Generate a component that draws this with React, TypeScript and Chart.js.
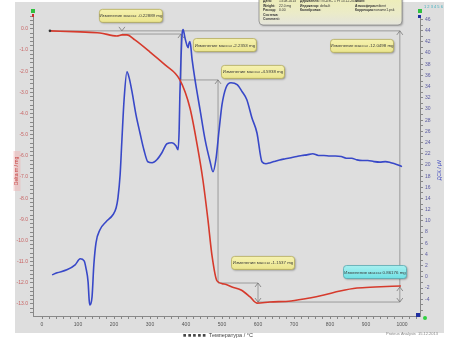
import React, { useEffect, useRef } from 'react';
import { Chart, registerables } from 'chart.js';
Chart.register(...registerables);

// ---- data ----
const tgTemps = [22, 106, 161, 208, 222, 236, 258, 300, 342, 383, 411, 431, 447, 461, 472, 486, 506, 528, 553, 578, 597, 633, 692, 744, 783, 828, 875, 925, 997];
const tgMass = [-0.09, -0.14, -0.19, -0.33, -0.28, -0.28, -0.52, -1.09, -1.7, -2.41, -3.74, -5.48, -7.14, -9.03, -10.69, -11.91, -12.06, -12.2, -12.34, -12.67, -12.96, -12.91, -12.86, -12.72, -12.58, -12.39, -12.25, -12.2, -12.15];

const dscTemps = [28, 42, 69, 92, 106, 117, 122, 128, 131, 133, 139, 144, 150, 161, 178, 197, 206, 211, 217, 222, 228, 236, 242, 250, 261, 272, 283, 294, 306, 319, 333, 347, 361, 372, 378, 381, 383, 386, 389, 392, 397, 403, 406, 408, 411, 417, 425, 439, 453, 467, 475, 483, 492, 500, 511, 525, 542, 556, 569, 583, 597, 611, 622, 634, 644, 660, 676, 692, 708, 722, 736, 752, 768, 783, 800, 815, 831, 845, 860, 875, 890, 905, 922, 938, 954, 969, 985, 1000];
const dscSignal = [0.36, 0.72, 1.25, 2.15, 3.22, 2.86, 1.61, -0.89, -4.11, -5.01, -3.58, 2.15, 6.08, 8.41, 9.84, 11.09, 12.34, 14.13, 18.25, 24.51, 31.66, 36.67, 35.6, 33.09, 28.98, 25.76, 22.72, 20.57, 20.39, 20.93, 22.18, 23.79, 23.97, 23.43, 22.72, 26.3, 32.56, 38.82, 43.29, 44.19, 42.75, 41.32, 40.97, 41.68, 42.04, 38.82, 35.24, 29.87, 24.51, 20.57, 18.78, 20.93, 26.3, 30.77, 33.81, 34.7, 34.35, 33.09, 31.66, 28.44, 25.76, 20.57, 20.21, 20.4, 20.6, 20.9, 21.1, 21.3, 21.5, 21.7, 21.8, 22.0, 21.7, 21.7, 21.6, 21.6, 21.5, 21.2, 21.2, 20.9, 20.8, 20.8, 20.6, 20.5, 20.6, 20.4, 20.1, 19.7];

const xTickLabels = [0, 100, 200, 300, 400, 500, 600, 700, 800, 900, 1000];
const massTickLabels = [0, -1, -2, -3, -4, -5, -6, -7, -8, -9, -10, -11, -12, -13];
const dscTickLabels = [-4, -2, 0, 2, 4, 6, 8, 10, 12, 14, 16, 18, 20, 22, 24, 26, 28, 30, 32, 34, 36, 38, 40, 42, 44, 46];

// mass-step measurement lines: [T1, m1, T2, m2]
const stepSegments: number[][] = [
  [22, -0.09, 994, -0.09],
  [994, -0.09, 994, -12.91],
  [222, -0.24, 386, -0.24],
  [386, -0.24, 386, -2.41],
  [386, -2.41, 489, -2.41],
  [489, -2.41, 489, -12.01],
  [489, -12.01, 600, -12.01],
  [600, -12.01, 600, -12.91],
  [600, -12.91, 994, -12.91],
];
const stepArrows: [number, number, string][] = [
  [222, -0.09, 'down'], [386, -0.24, 'up'], [489, -2.41, 'up'],
  [600, -12.01, 'up'], [600, -12.91, 'down'], [994, -0.09, 'up'],
  [994, -12.2, 'up'], [994, -12.91, 'down'],
];
const massChangeLabels = ['Изменение массы -0.22889 mg', 'Изменение массы -2.2353 mg', 'Изменение массы -4.5938 mg', 'Изменение массы -12.0498 mg', 'Изменение массы -1.1537 mg', 'Изменение массы 0.86176 mg'];
const massChangeT = [247, 508, 586, 889, 614, 925];
const massChangeM = [0.62, -0.76, -2.03, -0.8, -11.06, -11.49];
const massChangeCyan = [false, false, false, false, false, true];

const FONT = '"Liberation Sans", Arial, sans-serif';

function rr(ctx: CanvasRenderingContext2D, x: number, y: number, w: number, h: number, r: number) {
  ctx.beginPath();
  ctx.moveTo(x + r, y);
  ctx.lineTo(x + w - r, y);
  ctx.quadraticCurveTo(x + w, y, x + w, y + r);
  ctx.lineTo(x + w, y + h - r);
  ctx.quadraticCurveTo(x + w, y + h, x + w - r, y + h);
  ctx.lineTo(x + r, y + h);
  ctx.quadraticCurveTo(x, y + h, x, y + h - r);
  ctx.lineTo(x, y + r);
  ctx.quadraticCurveTo(x, y, x + r, y);
  ctx.closePath();
}

const decor = {
  id: 'decor',
  beforeDraw(chart: any) {
    const { ctx } = chart;
    ctx.save();
    ctx.fillStyle = '#ffffff';
    ctx.fillRect(0, 0, chart.width, chart.height);
    ctx.fillStyle = '#dedede';
    ctx.fillRect(15, 2, 429, 331);
    ctx.restore();
  },
  beforeDatasetsDraw(chart: any) {
    const { ctx } = chart;
    const xs = chart.scales.x, ys = chart.scales.y;
    ctx.save();
    ctx.strokeStyle = '#8a8a8a';
    ctx.lineWidth = 0.8;
    stepSegments.forEach((s) => {
      ctx.beginPath();
      ctx.moveTo(xs.getPixelForValue(s[0]), ys.getPixelForValue(s[1]));
      ctx.lineTo(xs.getPixelForValue(s[2]), ys.getPixelForValue(s[3]));
      ctx.stroke();
    });
    ctx.strokeStyle = '#777';
    stepArrows.forEach(([t, m, d]) => {
      const px = xs.getPixelForValue(t), py = ys.getPixelForValue(m);
      const k = d === 'up' ? 1 : -1;
      ctx.beginPath();
      ctx.moveTo(px - 3, py + 4 * k);
      ctx.lineTo(px, py);
      ctx.lineTo(px + 3, py + 4 * k);
      ctx.stroke();
    });
    ctx.restore();
  },
  afterDatasetsDraw(chart: any) {
    const { ctx } = chart;
    const xs = chart.scales.x, ys = chart.scales.y;
    ctx.save();
    // start marker
    ctx.fillStyle = '#333';
    ctx.beginPath();
    ctx.arc(xs.getPixelForValue(tgTemps[0]), ys.getPixelForValue(tgMass[0]), 1.3, 0, Math.PI * 2);
    ctx.fill();

    // mass change boxes
    massChangeLabels.forEach((lab, i) => {
      const cx = xs.getPixelForValue(massChangeT[i]);
      const cy = ys.getPixelForValue(massChangeM[i]);
      const w = 63, h = 13;
      const x = cx - w / 2, y = cy - h / 2;
      ctx.save();
      ctx.shadowColor = 'rgba(0,0,0,0.35)';
      ctx.shadowBlur = 2;
      ctx.shadowOffsetX = 1;
      ctx.shadowOffsetY = 1;
      rr(ctx, x, y, w, h, 3);
      const g = ctx.createLinearGradient(0, y, 0, y + h);
      if (massChangeCyan[i]) {
        g.addColorStop(0, '#a8f0f0');
        g.addColorStop(1, '#70e0e4');
      } else {
        g.addColorStop(0, '#f6f2b0');
        g.addColorStop(1, '#ebe58e');
      }
      ctx.fillStyle = g;
      ctx.fill();
      ctx.restore();
      rr(ctx, x, y, w, h, 3);
      ctx.strokeStyle = massChangeCyan[i] ? '#5aa8b0' : '#b4ac5c';
      ctx.lineWidth = 0.8;
      ctx.stroke();
      ctx.fillStyle = '#3a3a3a';
      ctx.font = `4.4px ${FONT}`;
      ctx.textAlign = 'center';
      ctx.textBaseline = 'middle';
      ctx.fillText(lab, cx, cy + 0.3);
    });

    // info box
    ctx.save();
    ctx.shadowColor = 'rgba(0,0,0,0.3)';
    ctx.shadowBlur = 2;
    ctx.shadowOffsetX = 1;
    ctx.shadowOffsetY = 1;
    rr(ctx, 259, -5, 143, 30, 4);
    const gi = ctx.createLinearGradient(0, -5, 0, 25);
    gi.addColorStop(0, '#eeeeb4');
    gi.addColorStop(0.6, '#ebebc8');
    gi.addColorStop(1, '#e4e4dc');
    ctx.fillStyle = gi;
    ctx.fill();
    ctx.restore();
    rr(ctx, 259, -5, 143, 30, 4);
    ctx.strokeStyle = '#8a8a8a';
    ctx.lineWidth = 0.8;
    ctx.stroke();
    ctx.fillStyle = '#333';
    ctx.font = `3.4px ${FONT}`;
    ctx.textAlign = 'left';
    ctx.textBaseline = 'middle';
    const rows = [1.5, 6, 10.5, 15, 19.5];
    const c1 = ['Дата:', 'Weight:', 'Расход:', 'Система:', 'Comment:'];
    const v1 = ['13.08.2013', '22.0 mg', '0.00', '', ''];
    const c2 = ['Держатель:', 'Индикатор:', 'Калибровка:'];
    const v2 = ['TG-DSC 1 Pt 13.12.2010', 'default', ''];
    const c3 = ['Файл:', 'Атмосфера:', 'Коррекция:'];
    const v3 = ['', 'ambient', 'noname1.psk'];
    c1.forEach((t, i) => { ctx.font = `bold 3.4px ${FONT}`; ctx.fillText(t, 263, rows[i]); ctx.font = `3.4px ${FONT}`; ctx.fillText(v1[i], 279, rows[i]); });
    c2.forEach((t, i) => { ctx.font = `bold 3.4px ${FONT}`; ctx.fillText(t, 300, rows[i]); ctx.font = `3.4px ${FONT}`; ctx.fillText(v2[i], 320, rows[i]); });
    c3.forEach((t, i) => { ctx.font = `bold 3.4px ${FONT}`; ctx.fillText(t, 355, rows[i]); ctx.font = `3.4px ${FONT}`; ctx.fillText(v3[i], 374, rows[i]); });

    // axis titles
    ctx.save();
    ctx.translate(17, 171);
    ctx.rotate(-Math.PI / 2);
    ctx.fillStyle = 'rgba(240,180,180,0.5)';
    ctx.fillRect(-20, -3.5, 40, 7);
    ctx.fillStyle = '#c83c3c';
    ctx.font = `5px ${FONT}`;
    ctx.textAlign = 'center';
    ctx.textBaseline = 'middle';
    ctx.fillText('Delta m / mg', 0, 0);
    ctx.restore();

    ctx.save();
    ctx.translate(440, 170);
    ctx.rotate(-Math.PI / 2);
    ctx.fillStyle = '#3c46c0';
    ctx.font = `5px ${FONT}`;
    ctx.textAlign = 'center';
    ctx.textBaseline = 'middle';
    ctx.fillText('ДСК / µV', 0, 0);
    ctx.restore();

    ctx.fillStyle = '#444';
    ctx.font = `5.5px ${FONT}`;
    ctx.textAlign = 'center';
    ctx.textBaseline = 'middle';
    ctx.fillText('■ ■ ■ ■ ■  Температура / °C', 218, 335);
    ctx.fillStyle = '#888';
    ctx.font = `4px ${FONT}`;
    ctx.fillText('Proteus Analysis  15.12.2013', 412, 334);

    // small markers
    ctx.fillStyle = '#30c040';
    ctx.fillRect(31, 9, 4, 4);
    ctx.fillStyle = '#c83030';
    ctx.fillRect(32, 14, 2, 3);
    ctx.fillStyle = '#30c040';
    ctx.fillRect(418, 9, 4, 4);
    ctx.fillStyle = '#2030a0';
    ctx.fillRect(418, 15, 3, 3);
    ctx.fillStyle = '#2030a0';
    ctx.fillRect(416, 313, 4, 4);
    ctx.fillStyle = '#30d040';
    ctx.beginPath();
    ctx.arc(425, 318, 2, 0, Math.PI * 2);
    ctx.fill();
    ctx.fillStyle = '#40b0c0';
    ctx.font = `4px ${FONT}`;
    ctx.textAlign = 'left';
    ctx.fillText('1 2 3 4 5 6', 424, 7);
    ctx.restore();
  },
};

function minorTicks(min: number, max: number, step: number) {
  const out: { value: number }[] = [];
  for (let v = min; v <= max + 1e-9; v += step) out.push({ value: Math.round(v * 1000) / 1000 });
  return out;
}

export default function App() {
  const ref = useRef<HTMLCanvasElement>(null);
  useEffect(() => {
    const tg = tgTemps.map((t, i) => ({ x: t, y: tgMass[i] }));
    const dsc = dscTemps.map((t, i) => ({ x: t, y: dscSignal[i] }));
    const chart = new Chart(ref.current!, {
      type: 'line',
      data: {
        datasets: [
          { label: 'TG', data: tg, yAxisID: 'y', borderColor: '#d63a2c', borderWidth: 1.6, pointRadius: 0, cubicInterpolationMode: 'monotone', fill: false },
          { label: 'DSC', data: dsc, yAxisID: 'y1', borderColor: '#3848c8', borderWidth: 1.6, pointRadius: 0, cubicInterpolationMode: 'monotone', fill: false },
        ],
      },
      options: {
        responsive: false,
        animation: false,
        layout: { padding: { top: 15, left: 0, right: 0, bottom: 0 } },
        plugins: { legend: { display: false }, tooltip: { enabled: false } },
        scales: {
          x: {
            type: 'linear',
            min: -25,
            max: 1050,
            afterFit: (s: any) => { s.height = 26; },
            afterBuildTicks: (s: any) => { s.ticks = minorTicks(0, 1040, 20); },
            ticks: {
              autoSkip: false,
              maxRotation: 0,
              padding: 3,
              color: '#555',
              font: { size: 5, family: FONT },
              callback: (v: any) => (xTickLabels.includes(Number(v)) ? String(v) : ''),
            },
            grid: { drawOnChartArea: false, drawTicks: true, tickLength: 3, color: '#888' },
            border: { display: true, color: '#888' },
          },
          y: {
            type: 'linear',
            position: 'left',
            min: -13.57,
            max: 0.66,
            afterFit: (s: any) => { s.width = 33; },
            afterBuildTicks: (s: any) => { s.ticks = minorTicks(-13.4, 0.6, 0.2); },
            ticks: {
              autoSkip: false,
              padding: 2,
              color: '#c86464',
              font: { size: 5, family: FONT },
              callback: (v: any) => {
                const n = Number(v);
                return massTickLabels.some((m) => Math.abs(m - n) < 1e-6) ? n.toFixed(1) : '';
              },
            },
            grid: { drawOnChartArea: false, drawTicks: true, tickLength: 3, color: '#888' },
            border: { display: true, color: '#888' },
          },
          y1: {
            type: 'linear',
            position: 'right',
            min: -7,
            max: 46.8,
            afterFit: (s: any) => { s.width = 34; },
            afterBuildTicks: (s: any) => { s.ticks = minorTicks(-6, 46, 1); },
            ticks: {
              autoSkip: false,
              padding: 2,
              color: '#5a5aa0',
              font: { size: 5, family: FONT },
              callback: (v: any) => (dscTickLabels.includes(Number(v)) ? String(v) : ''),
            },
            grid: { drawOnChartArea: false, drawTicks: true, tickLength: 3, color: '#888' },
            border: { display: true, color: '#888' },
          },
        },
      },
      plugins: [decor],
    } as any);
    return () => chart.destroy();
  }, []);
  return (
    <div style={{ position: 'fixed', left: 0, top: 0, width: 454, height: 342 }}>
      <canvas ref={ref} width={454} height={342} style={{ display: 'block' }} />
    </div>
  );
}
